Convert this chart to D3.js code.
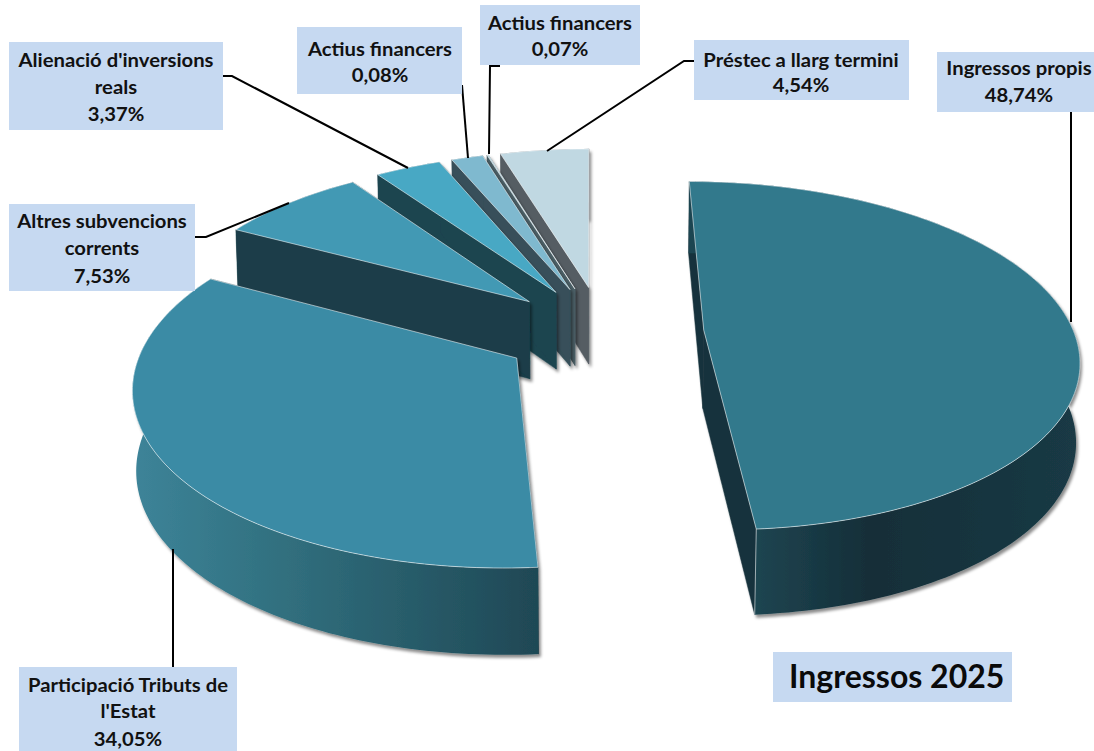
<!DOCTYPE html>
<html><head><meta charset="utf-8">
<script src="https://cdn.jsdelivr.net/npm/d3@7"></script>
<style>html,body{margin:0;padding:0;background:#fff;overflow:hidden}svg{display:block}</style>
</head><body><svg id="c" width="1094" height="751"></svg>
<script>
// --- data ---
const labelLines = [["Ingressos propis"],["Participació Tributs de","l'Estat"],["Altres subvencions","corrents"],["Alienació d'inversions","reals"],["Actius financers"],["Actius financers"],["Préstec a llarg termini"]];
const percentLabels = ["48,74%","34,05%","7,53%","3,37%","0,08%","0,07%","4,54%"];
// drawn sector sizes (the first "Actius financers" sector is visibly larger than its label)
const sectorValues = [48.74,34.05,7.53,3.37,1.62,0.07,4.54];
const title = "Ingressos 2025";
// --- styles ---
const topColors  = ["#32798c","#3b8ba5","#4299b4","#48a8c4","#7fb9cf","#a9ccd9","#c0d8e2"];
const wallColors = ["#16323c","#16323c","#1b3e49","#1f4550","#37505a","#4c5f66","#545d63"];
const arcGradients = [
  [[755,"#1e4551"],[870,"#142e38"],[1080,"#1a3a45"]],
  [[131,"#3d8499"],[280,"#31707f"],[537,"#1f4855"]],
  null,null,null,null,null];
// --- layout ---
const G = {cx:590, cy:332, centerX:13, R:370, explode:101, k:0.462, p:0.000395, h:80.3, q:0.025, qx:0.008};
const boxes = [
 {x:937,y:52,w:157,h:60,tx:1019,base:[75,102],leader:[[1071,112],[1071,322]]},
 {x:19,y:667,w:218,h:90,tx:128,base:[692,718,746],leader:[[173,667],[173,549]]},
 {x:9,y:204,w:186,h:87,tx:102,base:[228,255,283],leader:[[195,237],[206,237],[289,203]]},
 {x:9,y:42,w:214,h:88,tx:116,base:[67,94,121],leader:[[223,76],[232,76],[408,168]]},
 {x:297,y:27,w:165,h:67,tx:380,base:[56,82],leader:[[462,85],[468,158]]},
 {x:480,y:5,w:160,h:60,tx:560,base:[30,56],leader:[[500,66],[490,66],[489,154]]},
 {x:694,y:40,w:215,h:60,tx:801,base:[67,92],leader:[[694,61],[684,61],[547,151]]}
];
const titleBox = {x:773,y:652,w:239,h:50,tx:789,base:688};
const labelStretch = 1.125;

const svg = d3.select("#c");
const defs = svg.append("defs");
const f = defs.append("filter").attr("id","sh").attr("x","-5%").attr("y","-5%").attr("width","112%").attr("height","115%");
f.append("feDropShadow").attr("dx",2).attr("dy",3).attr("stdDeviation",1.6).attr("flood-color","#000").attr("flood-opacity",0.45);

arcGradients.forEach((g,i)=>{ if(!g) return;
  const span=d3.scaleLinear().domain([g[0][0],g[g.length-1][0]]).range([0,1]);
  const lg=defs.append("linearGradient").attr("id","g"+i).attr("gradientUnits","userSpaceOnUse")
    .attr("x1",g[0][0]).attr("x2",g[g.length-1][0]).attr("y1",0).attr("y2",0);
  g.forEach(s=>lg.append("stop").attr("offset",span(s[0])).attr("stop-color",s[1]));
});

const arcs = d3.pie().sort(null).value(d=>d)(sectorValues);
function project(X,Y,H){ // H: 0 top face, 1 bottom face
  const w = 1 - G.p*Y + G.q*H, wx = 1 - G.p*Y + G.qx*H;
  return [G.cx + X/wx, G.cy + (G.k*Y + G.h*H)/w];
}
function apex(a){
  const m=(a.startAngle+a.endAngle)/2;
  return [G.centerX+G.explode*Math.sin(m), -G.explode*Math.cos(m)];
}
function rim(a,t){
  const c=apex(a);
  return [c[0]+G.R*Math.sin(t), c[1]-G.R*Math.cos(t)];
}
const line=d3.line();
function angles(a){ const n=Math.max(2,Math.ceil((a.endAngle-a.startAngle)*50));
  return d3.range(n+1).map(i=>d3.interpolateNumber(a.startAngle,a.endAngle)(i/n)); }

const order=[6,5,4,3,2,1,0];
const root=svg.append("g");
order.forEach(i=>{
  const a=arcs[i], c=apex(a), as=angles(a);
  const w=root.append("g").attr("filter","url(#sh)");
  const wall=wallColors[i];
  const rimTop=as.map(t=>project(...rim(a,t),0)), rimBot=as.map(t=>project(...rim(a,t),1));
  const A0=project(...c,0), A1=project(...c,1);
  // radial walls
  w.append("path").attr("d",line([A0,rimTop[0],rimBot[0],A1])+"Z").attr("fill",wall).attr("stroke",wall).attr("stroke-width",.5);
  w.append("path").attr("d",line([A0,rimTop[rimTop.length-1],rimBot[rimBot.length-1],A1])+"Z").attr("fill",wall).attr("stroke",wall).attr("stroke-width",.5);
  // outer wall
  w.append("path").attr("d",line(rimTop.concat(rimBot.slice().reverse()))+"Z")
    .attr("fill",arcGradients[i]?`url(#g${i})`:wall);
  // vertical seam
  if(i<2) root.append("path").attr("d",line([rimTop[rimTop.length-1],rimBot[rimBot.length-1]])).attr("stroke","#ffffff").attr("stroke-opacity",.55).attr("fill","none");
  // top
  root.append("path").attr("d",line([A0].concat(rimTop))+"Z").attr("fill",topColors[i])
    .attr("stroke","#ffffff").attr("stroke-opacity",.55).attr("stroke-width",1).attr("stroke-linejoin","round");
});

// leaders
const lg=svg.append("g");
boxes.forEach(b=>lg.append("path").attr("d",line(b.leader)).attr("fill","none").attr("stroke","#000").attr("stroke-width",2));
// labels
const FONT="Lato, 'Noto Sans', sans-serif";
boxes.forEach((b,i)=>{
  svg.append("rect").attr("x",b.x).attr("y",b.y).attr("width",b.w).attr("height",b.h).attr("fill","#c6d9f1");
  const lines=labelLines[i].concat([percentLabels[i]]);
  lines.forEach((s,j)=>{
    const t=svg.append("text").attr("x",b.tx).attr("y",b.base[j]).attr("text-anchor","middle")
      .attr("font-family",FONT).attr("font-weight",700).attr("font-size",18).attr("fill","#111").text(s);
    const n=t.node().getComputedTextLength();
    t.attr("textLength",n*labelStretch).attr("lengthAdjust","spacingAndGlyphs");
  });
});
svg.append("rect").attr("x",titleBox.x).attr("y",titleBox.y).attr("width",titleBox.w).attr("height",titleBox.h).attr("fill","#c6d9f1");
svg.append("text").attr("x",titleBox.tx).attr("y",titleBox.base).attr("font-family",FONT).attr("font-weight",700).attr("font-size",32).attr("fill","#0a0a0a").text(title);
</script></body></html>
